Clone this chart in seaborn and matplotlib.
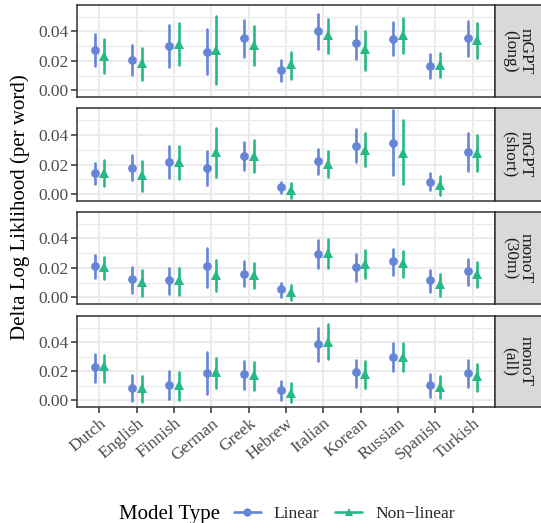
import numpy as np
import pandas as pd
import matplotlib
matplotlib.use("Agg")
import matplotlib.pyplot as plt
import seaborn as sns
from matplotlib.lines import Line2D
from matplotlib.ticker import MultipleLocator, FormatStrFormatter

languages = ["Dutch", "English", "Finnish", "German", "Greek", "Hebrew",
             "Italian", "Korean", "Russian", "Spanish", "Turkish"]
panels = ["mGPT\n(long)", "mGPT\n(short)", "monoT\n(30m)", "monoT\n(all)"]
model_types = ["Linear", "Non\u2212linear"]

# mGPT (long)
long_lin_mid = [.0276, .0206, .0303, .0264, .0353, .0136, .0400, .0325, .0350, .0167, .0353]
long_lin_lo  = [.0167, .0102, .0156, .0111, .0224, .0063, .0278, .0212, .0240, .0081, .0231]
long_lin_hi  = [.0382, .0305, .0443, .0416, .0475, .0203, .0518, .0436, .0463, .0249, .0470]
long_nl_mid  = [.0231, .0185, .0314, .0276, .0310, .0179, .0377, .0280, .0375, .0172, .0339]
long_nl_lo   = [.0118, .0072, .0170, .0041, .0170, .0079, .0253, .0136, .0253, .0090, .0217]
long_nl_hi   = [.0348, .0287, .0457, .0506, .0436, .0260, .0484, .0402, .0490, .0253, .0461]

# mGPT (short)
short_lin_mid = [.0141, .0179, .0218, .0179, .0259, .0048, .0222, .0327, .0347, .0084, .0284]
short_lin_lo  = [.0068, .0093, .0107, .0064, .0163, .0007, .0134, .0218, .0129, .0027, .0154]
short_lin_hi  = [.0211, .0266, .0327, .0291, .0354, .0086, .0306, .0436, .0565, .0143, .0409]
short_nl_mid  = [.0143, .0132, .0218, .0286, .0259, .0030, .0207, .0297, .0279, .0061, .0279]
short_nl_lo   = [.0054, .0025, .0100, .0116, .0150, -.0025, .0114, .0188, .0066, -.0005, .0157]
short_nl_hi   = [.0229, .0225, .0327, .0443, .0368, .0075, .0293, .0409, .0497, .0123, .0400]

# monoT (30m)
m30_lin_mid = [.0210, .0122, .0115, .0210, .0160, .0054, .0298, .0206, .0244, .0118, .0176]
m30_lin_lo  = [.0133, .0032, .0025, .0072, .0079, .0005, .0201, .0113, .0154, .0038, .0086]
m30_lin_hi  = [.0287, .0208, .0201, .0337, .0244, .0095, .0391, .0296, .0330, .0188, .0262]
m30_nl_mid  = [.0203, .0102, .0118, .0151, .0151, .0036, .0301, .0226, .0231, .0090, .0158]
m30_nl_lo   = [.0122, .0011, .0018, .0045, .0066, -.0016, .0199, .0131, .0140, .0009, .0072]
m30_nl_hi   = [.0276, .0188, .0201, .0255, .0231, .0086, .0398, .0323, .0316, .0160, .0242]

# monoT (all)
all_lin_mid = [.0229, .0086, .0106, .0187, .0180, .0072, .0388, .0192, .0298, .0106, .0187]
all_lin_lo  = [.0129, -.0002, .0012, .0042, .0081, .0005, .0268, .0095, .0199, .0025, .0095]
all_lin_hi  = [.0319, .0173, .0201, .0333, .0270, .0132, .0501, .0277, .0395, .0180, .0277]
all_nl_mid  = [.0236, .0086, .0104, .0194, .0173, .0053, .0404, .0180, .0300, .0092, .0169]
all_nl_lo   = [.0129, -.0009, .0005, .0088, .0074, -.0009, .0282, .0088, .0199, .0018, .0067]
all_nl_hi   = [.0312, .0166, .0194, .0291, .0263, .0120, .0527, .0270, .0395, .0169, .0252]

panel_data = [
    ((long_lin_lo, long_lin_mid, long_lin_hi), (long_nl_lo, long_nl_mid, long_nl_hi)),
    ((short_lin_lo, short_lin_mid, short_lin_hi), (short_nl_lo, short_nl_mid, short_nl_hi)),
    ((m30_lin_lo, m30_lin_mid, m30_lin_hi), (m30_nl_lo, m30_nl_mid, m30_nl_hi)),
    ((all_lin_lo, all_lin_mid, all_lin_hi), (all_nl_lo, all_nl_mid, all_nl_hi)),
]

rows = []
for panel, models in zip(panels, panel_data):
    for model, (lo, mid, hi) in zip(model_types, models):
        for i, lang in enumerate(languages):
            for v in (lo[i], mid[i], hi[i]):
                rows.append({"panel": panel, "model": model, "language": lang, "value": v})
df = pd.DataFrame(rows)

sns.set_style("white")
plt.rcParams["font.family"] = ["Liberation Serif", "DejaVu Serif"]

colors = {"Linear": "#6585D8", "Non\u2212linear": "#27B887"}
DARK = "#333333"
GRID = "#EBEBEB"

W, H = 541, 523
fig = plt.figure(figsize=(W / 100, H / 100), dpi=100)
tops = [5, 108, 212, 316]
bots = [97, 201, 304, 407]
left, right = 77, 495

for k, panel in enumerate(panels):
    ax = fig.add_axes([left / W, 1 - bots[k] / H, (right - left) / W, (bots[k] - tops[k]) / H])
    ax.set_axisbelow(True)
    sub = df[df["panel"] == panel]
    sns.pointplot(data=sub, x="language", y="value", hue="model",
                  order=languages, hue_order=model_types, palette=colors,
                  estimator="median", errorbar=lambda v: (v.min(), v.max()),
                  dodge=0.26, linestyle="none", markers=["o", "^"],
                  err_kws={"linewidth": 1.9}, markersize=6.3, markeredgewidth=0,
                  legend=False, ax=ax)
    for ln in ax.lines:
        if ln.get_marker() == "^":
            ln.set_markersize(7.6)
    ax.set_xlim(-0.6, 10.6)
    ax.set_ylim(-0.0045, 0.058)
    ax.yaxis.set_major_locator(MultipleLocator(0.02))
    ax.yaxis.set_minor_locator(MultipleLocator(0.01))
    ax.yaxis.set_major_formatter(FormatStrFormatter("%.2f"))
    ax.grid(which="major", color=GRID, linewidth=1.5)
    ax.grid(which="minor", axis="y", color=GRID, linewidth=0.9)
    ax.set_xlabel("")
    ax.set_ylabel("")
    for s in ax.spines.values():
        s.set_color(DARK)
        s.set_linewidth(1.1)
    ax.tick_params(axis="y", which="major", direction="out", length=4, width=1.1,
                   color=DARK, labelcolor="#4D4D4D", labelsize=12.5, pad=2, left=True)
    ax.tick_params(axis="y", which="minor", length=0)
    if k < 3:
        ax.tick_params(axis="x", length=0, labelbottom=False)
    else:
        ax.tick_params(axis="x", direction="out", length=4, width=1.1, color=DARK,
                       labelcolor="#4D4D4D", labelsize=12.5, pad=2, bottom=True)
        for lab in ax.get_xticklabels():
            lab.set_rotation(40)
            lab.set_ha("right")
            lab.set_va("top")
            lab.set_rotation_mode("anchor")

    sax = fig.add_axes([right / W, 1 - bots[k] / H, 52 / W, (bots[k] - tops[k]) / H])
    sax.set_facecolor("#D9D9D9")
    sax.set_xticks([])
    sax.set_yticks([])
    for s in sax.spines.values():
        s.set_color(DARK)
        s.set_linewidth(1.1)
    sax.text(23 / 52, 0.5, panel, rotation=-90, ha="center", va="center",
             multialignment="center", fontsize=12.5, color="#1A1A1A",
             transform=sax.transAxes, linespacing=1.0)

fig.text(20 / W, 1 - 207 / H, "Delta Log Liklihood (per word)", rotation=90,
         ha="center", va="center", fontsize=15, color="black")

fig.text(119 / W, 1 - 514 / H, "Model Type", ha="left", va="center",
         fontsize=15, color="black")
handles = [Line2D([0], [0], color=colors[m], marker=mk, lw=1.9, markersize=6.0,
                  markeredgewidth=0) for m, mk in zip(model_types, ["o", "^"])]
fig.legend(handles, model_types, ncol=2, loc="center left",
           bbox_to_anchor=(234 / W, 1 - 514 / H), frameon=False,
           fontsize=12.5, handlelength=1.55, handletextpad=0.75, columnspacing=0.9,
           borderpad=0, borderaxespad=0)

fig.savefig("out.png", dpi=100)
